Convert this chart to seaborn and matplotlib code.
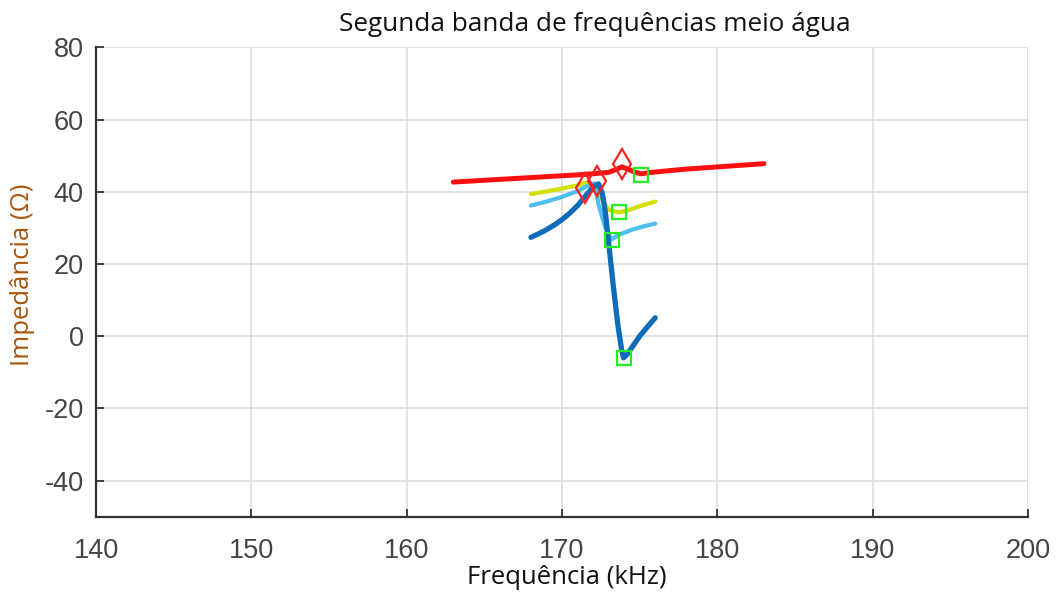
import matplotlib
matplotlib.use("Agg")
import matplotlib.pyplot as plt
import seaborn as sns
import pandas as pd

# Impedance curves (kHz, ohm) around the second resonance band, water medium
freq_red = [163, 165, 167, 169, 171, 172, 173, 173.5, 173.85, 174.3, 174.7, 175.1, 175.6, 176.5, 178, 180, 182, 183]
imp_red = [42.7, 43.2, 43.7, 44.2, 44.7, 45.0, 45.4, 46.2, 46.9, 46.2, 45.4, 45.0, 45.3, 45.7, 46.3, 46.9, 47.5, 47.8]

freq_yellow = [168, 169, 170, 171, 171.6, 172.0, 172.5, 173.0, 173.65, 174.2, 175.0, 176.0]
imp_yellow = [39.4, 40.1, 40.9, 41.8, 42.6, 42.0, 38.5, 35.0, 34.3, 34.8, 36.0, 37.3]

freq_light = [168, 169, 170, 171, 171.8, 172.1, 172.35, 172.78, 173.1, 173.2, 173.6, 174.5, 175.3, 176.0]
imp_light = [36.2, 37.3, 38.6, 40.2, 42.0, 42.3, 36.5, 30.1, 27.4, 26.8, 28.0, 29.5, 30.5, 31.2]

freq_dark = [168, 168.5, 169, 169.5, 170, 170.5, 171, 171.5, 172.0, 172.35, 172.6, 172.8, 173.0, 173.3, 173.6, 173.85, 173.96, 174.2, 174.6, 175.0, 175.5, 176.0]
imp_dark = [27.4, 28.4, 29.5, 30.8, 32.3, 34.1, 36.2, 38.8, 41.3, 42.2, 39.5, 34.0, 26.0, 14.0, 3.0, -4.0, -6.0, -5.0, -2.5, 0.0, 2.6, 5.1]

# Maxima (diamonds) and minima (squares) of the curves
max_freq = [171.5, 172.25, 173.85]
max_imp = [41.0, 43.1, 47.6]
min_freq = [175.1, 173.65, 173.2, 173.96]
min_imp = [44.6, 34.3, 26.6, -6.0]

x_ticks = [140, 150, 160, 170, 180, 190, 200]
y_ticks = [-40, -20, 0, 20, 40, 60, 80]

sns.set_theme(style="white")
plt.rcParams["font.family"] = ["Liberation Sans Narrow", "Liberation Sans", "DejaVu Sans"]
plt.rcParams["axes.unicode_minus"] = False

fig = plt.figure(figsize=(10.59, 5.93), dpi=100)
ax = fig.add_axes([0.0907, 0.1287, 0.8800, 0.7913])

series = [
    (freq_yellow, imp_yellow, "#d2e000", 3.0),
    (freq_light, imp_light, "#4DBEEE", 3.0),
    (freq_dark, imp_dark, "#0f6cb8", 3.8),
    (freq_red, imp_red, "#ff1010", 3.6),
]
for fx, fy, col, lw in series:
    df = pd.DataFrame({"f": fx, "z": fy})
    sns.lineplot(data=df, x="f", y="z", color=col, linewidth=lw, sort=False,
                 estimator=None, ax=ax, solid_capstyle="round")

ax.plot(max_freq, max_imp, linestyle="none", marker="d", markersize=15,
        markerfacecolor="none", markeredgecolor="#ff2020", markeredgewidth=1.6)
ax.plot(min_freq, min_imp, linestyle="none", marker="s", markersize=10.5,
        markerfacecolor="none", markeredgecolor="#22ee22", markeredgewidth=1.6)

ax.set_xlim(140, 200)
ax.set_ylim(-50, 80)
ax.set_xticks(x_ticks)
ax.set_yticks(y_ticks)
ax.grid(True, color="#dedede", linewidth=1.2)
ax.set_axisbelow(True)

for side in ("top", "right"):
    ax.spines[side].set_visible(False)
for side in ("left", "bottom"):
    ax.spines[side].set_color("#333333")
    ax.spines[side].set_linewidth(1.6)

ax.tick_params(axis="both", direction="in", length=6, width=1.3, color="#333333",
               labelsize=19.5, labelcolor="#444444", left=True, bottom=True)
ax.tick_params(axis="x", pad=15)
ax.tick_params(axis="y", pad=9)

ax.set_xlabel("")
ax.set_ylabel("")
fig.text(0.535, 1 - 577 / 593, "Frequência (kHz)", ha="center", va="center",
         fontsize=18.5, color="#111111", family=["Open Sans", "DejaVu Sans"])
fig.text(0.021, 1 - 275 / 593, "Impedância (Ω)", ha="center", va="center", rotation=90,
         fontsize=18.5, color="#a8560c", family=["Open Sans", "DejaVu Sans"])
fig.text(0.562, 0.958, "Segunda banda de frequências meio água", ha="center",
         va="center", fontsize=18.8, color="#111111", family=["Open Sans", "DejaVu Sans"])

fig.savefig("out.png", dpi=100)
